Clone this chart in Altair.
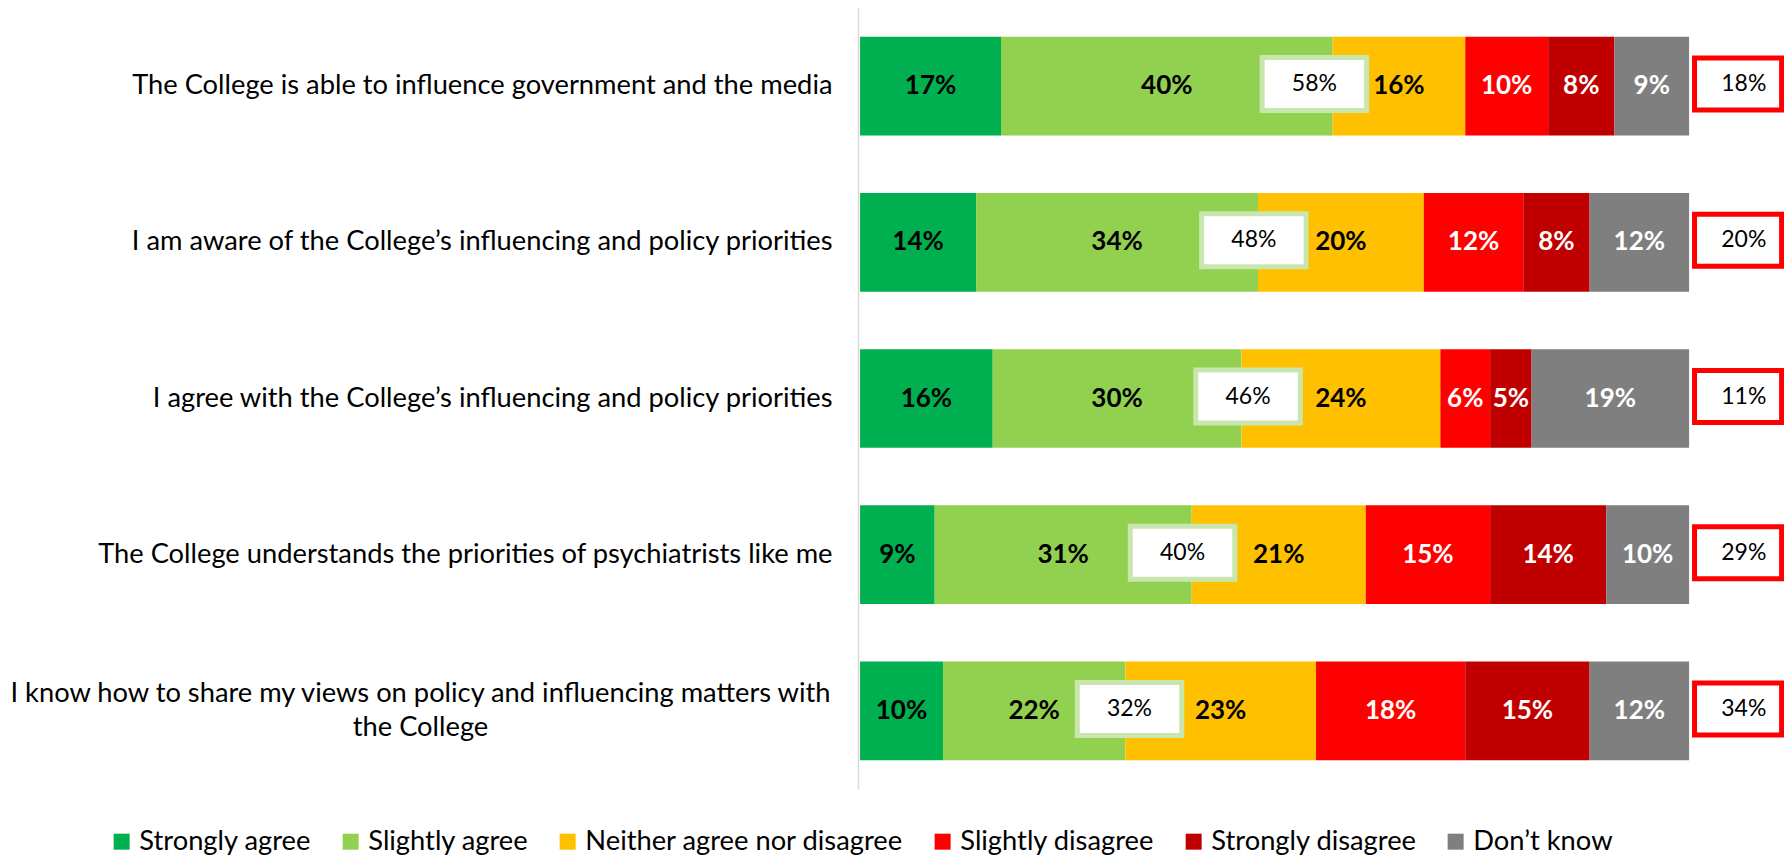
import altair as alt
import pandas as pd

# ---------------- data ----------------
categories = [
    "The College is able to influence government and the media",
    "I am aware of the College\u2019s influencing and policy priorities",
    "I agree with the College\u2019s influencing and policy priorities",
    "The College understands the priorities of psychiatrists like me",
    "I know how to share my views on policy and influencing matters with\nthe College",
]
responses = [
    "Strongly agree",
    "Slightly agree",
    "Neither agree nor disagree",
    "Slightly disagree",
    "Strongly disagree",
    "Don\u2019t know",
]
strongly_agree = [17, 14, 16, 9, 10]
slightly_agree = [40, 34, 30, 31, 22]
neither = [16, 20, 24, 21, 23]
slightly_disagree = [10, 12, 6, 15, 18]
strongly_disagree = [8, 8, 5, 14, 15]
dont_know = [9, 12, 19, 10, 12]
total_agree = [58, 48, 46, 40, 32]
total_disagree = [18, 20, 11, 29, 34]

colors = ["#00B050", "#92D050", "#FFC000", "#FF0000", "#C00000", "#7F7F7F"]

# ---------------- style constants ----------------
FONT = "Lato"
BOX_HALF = 6.3                          # half width of the green total box (x units)
BOX_NUDGE = [-3.2, -0.5, 0.8, -1.1, 0.5]  # manual label nudges, as in the original
RED_X0, RED_X1 = 100.66, 111.16
RED_TXT = 106.6

series = [strongly_agree, slightly_agree, neither, slightly_disagree,
          strongly_disagree, dont_know]
rows = []
for i, cat in enumerate(categories):
    start = 0
    for j, resp in enumerate(responses):
        v = series[j][i]
        rows.append(dict(category=cat, response=resp, order=j, value=v,
                         start=start, end=start + v, mid=start + v / 2,
                         label=f"{v}%", dark=j < 3))
        start += v
seg = pd.DataFrame(rows)

box = pd.DataFrame(dict(category=categories, agree=total_agree,
                        disagree=total_disagree))
box["acenter"] = box["agree"] + pd.Series(BOX_NUDGE)
box["a0"] = box["acenter"] - BOX_HALF
box["a1"] = box["acenter"] + BOX_HALF
box["alabel"] = box["agree"].astype(str) + "%"
box["d0"] = RED_X0
box["d1"] = RED_X1
box["dmid"] = RED_TXT
box["dlabel"] = box["disagree"].astype(str) + "%"

multi_test = "indexof(datum.value, '\\n') >= 0"
Y = alt.Y(
    "category:N",
    sort=categories,
    scale=alt.Scale(paddingInner=0.368, paddingOuter=0.184),
    axis=alt.Axis(
        title=None, ticks=False, grid=False,
        domainColor="#D9D9D9", domainWidth=1.5,
        labelFont=FONT, labelFontSize=27.3, labelColor="black",
        labelLimit=0, labelLineHeight=34, labelBaseline="middle",
        labelExpr="split(datum.label, '\\n')",
        labelAlign={"condition": {"test": multi_test, "value": "center"}, "value": "right"},
        labelPadding={"condition": {"test": multi_test, "value": 438}, "value": 26},
        labelOffset={"condition": {"test": multi_test, "value": -17}, "value": 0},
    ),
)
XS = alt.Scale(domain=[-0.25, 111.45], nice=False, zero=False)

bars = alt.Chart(seg).mark_bar().encode(
    x=alt.X("start:Q", scale=XS, axis=None),
    x2="end:Q",
    y=Y,
    color=alt.Color(
        "response:N",
        scale=alt.Scale(domain=responses, range=colors),
        legend=alt.Legend(
            title=None, orient="none", legendX=-750, legendY=820,
            direction="horizontal", columns=6, columnPadding=25,
            symbolType="square", symbolSize=256, symbolStrokeWidth=0,
            labelFont=FONT, labelFontSize=27.3, labelColor="black",
            labelOffset=4, padding=0, labelLimit=0,
        ),
    ),
    order=alt.Order("order:Q"),
)

lbl_dark = alt.Chart(seg).transform_filter("datum.dark").mark_text(
    font=FONT, fontSize=26, fontWeight="bold", color="black", baseline="middle"
).encode(x=alt.X("mid:Q", scale=XS, axis=None), y=Y, text="label:N")

lbl_light = alt.Chart(seg).transform_filter("!datum.dark").mark_text(
    font=FONT, fontSize=26, fontWeight="bold", color="white", baseline="middle"
).encode(x=alt.X("mid:Q", scale=XS, axis=None), y=Y, text="label:N")

green_box = alt.Chart(box).mark_bar(
    size=53, fill="white", stroke="#C9E6AE", strokeWidth=5, yOffset=-2
).encode(x=alt.X("a0:Q", scale=XS, axis=None), x2="a1:Q", y=Y)

green_txt = alt.Chart(box).mark_text(
    font=FONT, fontSize=23, color="black", baseline="middle", dy=-2
).encode(x=alt.X("acenter:Q", scale=XS, axis=None), y=Y, text="alabel:N")

red_box = alt.Chart(box).mark_bar(
    size=52, fill="white", stroke="#FF0000", strokeWidth=5, yOffset=-2
).encode(x=alt.X("d0:Q", scale=XS, axis=None), x2="d1:Q", y=Y)

red_txt = alt.Chart(box).mark_text(
    font=FONT, fontSize=23, color="black", baseline="middle", dy=-2
).encode(x=alt.X("dmid:Q", scale=XS, axis=None), y=Y, text="dlabel:N")

chart = alt.layer(
    bars, lbl_dark, lbl_light, green_box, green_txt, red_box, red_txt
).properties(
    width=926, height=781,
    autosize=alt.AutoSizeParams(type="none"),
    padding={"left": 850, "top": 0, "right": 0, "bottom": 67},
    background="white",
).configure_view(stroke=None)

chart.save("out.html", embed_options={"renderer": "svg", "actions": False})
